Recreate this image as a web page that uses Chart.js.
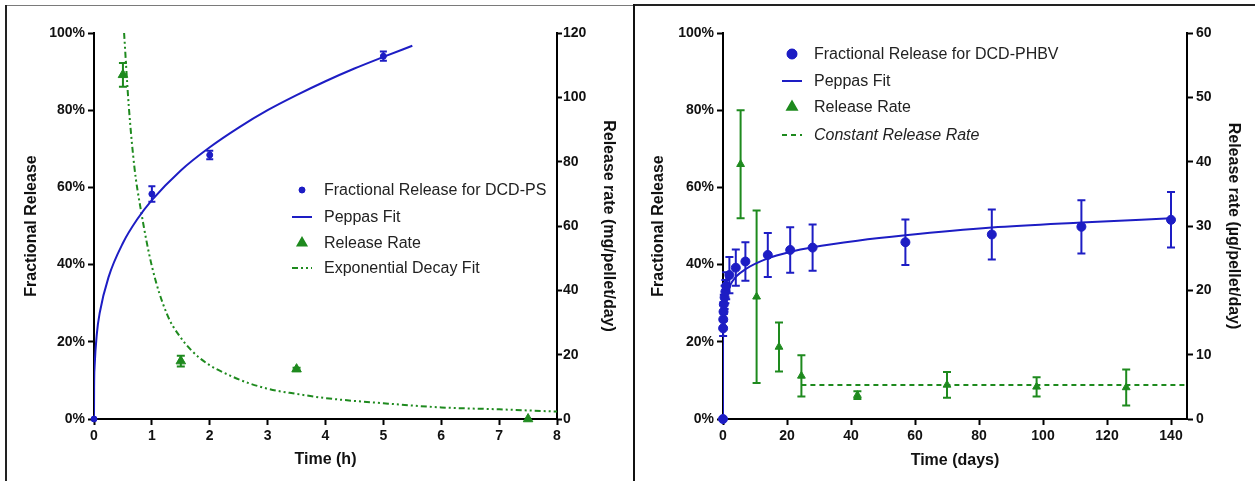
<!DOCTYPE html>
<html>
<head>
<meta charset="utf-8">
<script src="https://cdn.jsdelivr.net/npm/chart.js@4.4.1/dist/chart.umd.min.js"></script>
<style>
  html, body { margin: 0; padding: 0; background: #fff; }
  #wrap { position: relative; width: 1255px; height: 481px; overflow: hidden; background: #fff; }
  canvas { position: absolute; top: 0; }
  #cPS { left: 0; }
  #cPHBV { left: 634px; }
  .rule { position: absolute; }
</style>
</head>
<body>
<div id="wrap">
  <canvas id="cPS" width="634" height="481"></canvas>
  <canvas id="cPHBV" width="621" height="481"></canvas>
  <div class="rule" style="left:6px;top:5px;width:628px;height:1px;background:#7a7a7a"></div>
  <div class="rule" style="left:5px;top:5px;width:2px;height:476px;background:#222"></div>
  <div class="rule" style="left:633px;top:4px;width:2px;height:477px;background:#111"></div>
  <div class="rule" style="left:635px;top:4px;width:620px;height:2px;background:#222"></div>
</div>
<script>
// ---------- DCD-PS pellets (time in hours) ----------
const psTime = [0, 1, 2, 5];
const psFraction = [0, 0.583, 0.684, 0.940];
const psFractionErr = [0, 0.020, 0.011, 0.012];

const psFitTime = [0, 0.002, 0.01, 0.05, 0.1, 0.25, 0.5, 0.75, 1, 1.5, 2, 2.5, 3, 3.5, 4, 4.5, 5, 5.5];
const psFitFraction = [0, 0.081, 0.134, 0.222, 0.276, 0.367, 0.456, 0.518, 0.567, 0.644, 0.704, 0.755, 0.800, 0.839, 0.875, 0.908, 0.938, 0.967];

const psRateTime = [0.5, 1.5, 3.5, 7.5];
const psRate = [107, 18, 15.5, 0];
const psRateErr = [3.7, 1.7, 0.4, 0];

const psDecayTime = [0.52, 0.6, 0.7, 0.8, 1.0, 1.256, 1.486, 1.83, 2.4, 2.98, 3.5, 4.0, 5, 6, 7, 8];
const psDecayRate = [120, 97.5, 78, 66, 47.5, 32.8, 25.6, 18.9, 13.1, 9.5, 7.8, 6.5, 4.9, 3.6, 3.0, 2.3];

// ---------- DCD-PHBV pellets (time in days) ----------
const phbvTime = [0, 0.04, 0.08, 0.17, 0.25, 0.5, 0.75, 1, 2, 4, 7, 14, 21, 28, 57, 84, 112, 140];
const phbvFraction = [0, 0.235, 0.258, 0.278, 0.297, 0.315, 0.330, 0.345, 0.373, 0.392, 0.408, 0.425, 0.438, 0.444, 0.458, 0.478, 0.498, 0.516];
const phbvFractionErr = [0, 0.02, 0.02, 0.025, 0.025, 0.03, 0.03, 0.035, 0.047, 0.047, 0.05, 0.057, 0.059, 0.06, 0.059, 0.065, 0.069, 0.072];

const phbvFitTime = [0, 0.005, 0.02, 0.1, 0.5, 1, 2, 4, 7, 14, 21, 28, 42, 57, 84, 112, 140];
const phbvFitFraction = [0, 0.19, 0.225, 0.26, 0.30, 0.32, 0.343, 0.368, 0.388, 0.416, 0.433, 0.445, 0.462, 0.476, 0.496, 0.509, 0.520];

const phbvRateTime = [5.5, 10.5, 17.5, 24.5, 42, 70, 98, 126];
const phbvRate = [39.6, 19.0, 11.2, 6.7, 3.7, 5.3, 5.0, 4.9];
const phbvRateErr = [8.4, 13.4, 3.8, 3.2, 0.6, 2.0, 1.5, 2.8];

const phbvConstTime = [24.5, 145];
const phbvConstRate = [5.3, 5.3];

// ---------- axis ranges: [min, max, step, last labelled tick] ----------
const psTimeTicks = [0, 8, 1, 8];
const psFractionTicks = [0, 1, 0.2, 1];
const psRateTicks = [0, 120, 20, 120];
const phbvTimeTicks = [0, 145, 20, 140];
const phbvFractionTicks = [0, 1, 0.2, 1];
const phbvRateTicks = [0, 60, 10, 60];

const BLUE = '#1d1dc4';
const GREEN = '#1e8a1e';
const FONT = "'Liberation Sans', Arial, sans-serif";

const pts = (xs, ys) => xs.map((x, i) => ({ x, y: ys[i] }));

Chart.defaults.font.family = FONT;
Chart.defaults.color = '#111';

// vertical error bars with caps, drawn beneath the markers
const errorBars = {
  id: 'errorBars',
  beforeDatasetsDraw(chart) {
    const ctx = chart.ctx;
    chart.data.datasets.forEach((ds) => {
      if (!ds.errors) return;
      const xs = chart.scales.x;
      const ys = chart.scales[ds.yAxisID];
      ctx.save();
      ctx.strokeStyle = ds.borderColor;
      ctx.lineWidth = 2;
      ds.data.forEach((p, j) => {
        const e = ds.errors[j];
        if (!e) return;
        const x = xs.getPixelForValue(p.x);
        const yl = ys.getPixelForValue(p.y - e);
        const yh = ys.getPixelForValue(p.y + e);
        const c = ds.capHalf;
        ctx.beginPath();
        ctx.moveTo(x, yl); ctx.lineTo(x, yh);
        ctx.moveTo(x - c, yl); ctx.lineTo(x + c, yl);
        ctx.moveTo(x - c, yh); ctx.lineTo(x + c, yh);
        ctx.stroke();
      });
      ctx.restore();
    });
  }
};

// legend drawn at fixed spots inside the plot, labels taken from the datasets
const boxLegend = {
  id: 'boxLegend',
  afterDraw(chart, args, opts) {
    const ctx = chart.ctx;
    ctx.save();
    opts.items.forEach((idx, r) => {
      const ds = chart.data.datasets[idx];
      const y = opts.rows[r];
      const cx = opts.markerX;
      ctx.fillStyle = ds.borderColor;
      ctx.strokeStyle = ds.borderColor;
      if (ds.showLine) {
        ctx.lineWidth = 2;
        ctx.setLineDash(ds.borderDash || []);
        ctx.beginPath();
        ctx.moveTo(cx - 10, y); ctx.lineTo(cx + 10, y);
        ctx.stroke();
        ctx.setLineDash([]);
      } else {
        Chart.helpers.drawPoint(ctx, {
          pointStyle: ds.pointStyle, radius: opts.markerRadius[r], borderWidth: 1, rotation: 0
        }, cx, y);
        ctx.fill();
      }
      ctx.fillStyle = '#222';
      ctx.font = (ds.legendItalic ? 'italic ' : '') + '16px ' + FONT;
      ctx.textBaseline = 'middle';
      ctx.textAlign = 'left';
      ctx.fillText(ds.label, opts.textX, y + 1);
    });
    ctx.restore();
  }
};

function axisGrid(len) {
  return { display: true, drawOnChartArea: false, drawTicks: true, tickLength: len, tickWidth: 2, tickColor: '#000', color: '#000' };
}
function axisBorder() { return { display: true, color: '#000', width: 2 }; }
function tickFont() { return { family: FONT, size: 14, weight: 'bold' }; }
function titleFont() { return { family: FONT, size: 16, weight: 'bold' }; }
const pct = v => Math.round(v * 100) + '%';

// labelled ticks run from min to the last labelled value in fixed steps
function fixedTicks(spec) {
  return s => {
    const out = [];
    const n = Math.round((spec[3] - spec[0]) / spec[2]);
    for (let i = 0; i <= n; i++) out.push({ value: +(spec[0] + i * spec[2]).toFixed(6) });
    s.ticks = out;
  };
}

function buildChart(canvasId, cfg) {
  return new Chart(document.getElementById(canvasId), {
    type: 'scatter',
    data: { datasets: cfg.datasets },
    options: {
      responsive: false,
      animation: false,
      devicePixelRatio: 1,
      layout: { padding: { top: 33, left: 0, right: 0, bottom: 0 } },
      plugins: { legend: { display: false }, tooltip: { enabled: false }, boxLegend: cfg.legend },
      scales: {
        x: {
          type: 'linear', position: 'bottom',
          min: cfg.xTicks[0], max: cfg.xTicks[1],
          ticks: { font: tickFont(), color: '#111', padding: 3, maxRotation: 0, callback: v => String(v) },
          afterBuildTicks: fixedTicks(cfg.xTicks),
          grid: axisGrid(6), border: axisBorder(),
          title: { display: true, text: cfg.xTitle, font: titleFont(), color: '#111', padding: { top: 0, bottom: cfg.xTitlePad } },
          afterFit: s => { s.height = 62; }
        },
        y: {
          type: 'linear', position: 'left',
          min: cfg.yTicks[0], max: cfg.yTicks[1],
          ticks: { font: tickFont(), color: '#111', padding: 3, callback: pct },
          afterBuildTicks: fixedTicks(cfg.yTicks),
          grid: axisGrid(6), border: axisBorder(),
          title: { display: true, text: 'Fractional Release', font: titleFont(), color: '#111', padding: { top: cfg.yTitlePad, bottom: 0 } },
          afterFit: s => { s.width = cfg.yWidth; }
        },
        y1: {
          type: 'linear', position: 'right',
          min: cfg.y1Ticks[0], max: cfg.y1Ticks[1],
          ticks: { font: tickFont(), color: '#111', padding: cfg.y1TickPad },
          afterBuildTicks: fixedTicks(cfg.y1Ticks),
          grid: axisGrid(cfg.y1TickLen), border: axisBorder(),
          title: { display: true, text: cfg.y1Title, font: titleFont(), color: '#111', padding: { top: cfg.y1TitlePad, bottom: 0 } },
          afterFit: s => { s.width = cfg.y1Width; }
        }
      }
    },
    plugins: [errorBars, boxLegend]
  });
}

// DCD-PS chart
buildChart('cPS', {
  xTicks: psTimeTicks, yTicks: psFractionTicks, y1Ticks: psRateTicks,
  xTitle: 'Time (h)', y1Title: 'Release rate (mg/pellet/day)',
  yWidth: 94, y1Width: 77, yTitlePad: 22, y1TitlePad: 16, xTitlePad: 12,
  y1TickLen: 5, y1TickPad: 1,
  legend: { markerX: 302, textX: 324, rows: [190, 217, 243, 268], items: [0, 1, 2, 3], markerRadius: [3, 0, 5, 0] },
  datasets: [
    { label: 'Fractional Release for DCD-PS', data: pts(psTime, psFraction), errors: psFractionErr, capHalf: 3.5,
      yAxisID: 'y', showLine: false, pointStyle: 'circle', pointRadius: 3, borderWidth: 1,
      backgroundColor: BLUE, borderColor: BLUE, clip: false, order: 1 },
    { label: 'Peppas Fit', data: pts(psFitTime, psFitFraction), yAxisID: 'y', showLine: true,
      cubicInterpolationMode: 'monotone', pointRadius: 0, borderWidth: 2, borderColor: BLUE, backgroundColor: BLUE, order: 3 },
    { label: 'Release Rate', data: pts(psRateTime, psRate), errors: psRateErr, capHalf: 4,
      yAxisID: 'y1', showLine: false, pointStyle: 'triangle', pointRadius: 5.5, borderWidth: 1,
      backgroundColor: GREEN, borderColor: GREEN, clip: false, order: 2 },
    { label: 'Exponential Decay Fit', data: pts(psDecayTime, psDecayRate), yAxisID: 'y1', showLine: true,
      cubicInterpolationMode: 'monotone', pointRadius: 0, borderWidth: 2, borderDash: [6, 3, 2, 3, 2, 3],
      borderColor: GREEN, backgroundColor: GREEN, order: 4 }
  ]
});

// DCD-PHBV chart
buildChart('cPHBV', {
  xTicks: phbvTimeTicks, yTicks: phbvFractionTicks, y1Ticks: phbvRateTicks,
  xTitle: 'Time (days)', y1Title: 'Release rate (\u00b5g/pellet/day)',
  yWidth: 89, y1Width: 68, yTitlePad: 15, y1TitlePad: 12, xTitlePad: 11,
  y1TickLen: 6, y1TickPad: 3,
  legend: { markerX: 158, textX: 180, rows: [54, 81, 107, 135], items: [0, 1, 2, 3], markerRadius: [5, 0, 5.5, 0] },
  datasets: [
    { label: 'Fractional Release for DCD-PHBV', data: pts(phbvTime, phbvFraction), errors: phbvFractionErr, capHalf: 4,
      yAxisID: 'y', showLine: false, pointStyle: 'circle', pointRadius: 4.5, borderWidth: 1,
      backgroundColor: BLUE, borderColor: BLUE, clip: false, order: 1 },
    { label: 'Peppas Fit', data: pts(phbvFitTime, phbvFitFraction), yAxisID: 'y', showLine: true,
      cubicInterpolationMode: 'monotone', pointRadius: 0, borderWidth: 2, borderColor: BLUE, backgroundColor: BLUE, order: 3 },
    { label: 'Release Rate', data: pts(phbvRateTime, phbvRate), errors: phbvRateErr, capHalf: 4,
      yAxisID: 'y1', showLine: false, pointStyle: 'triangle', pointRadius: 4.5, borderWidth: 1,
      backgroundColor: GREEN, borderColor: GREEN, clip: false, order: 2 },
    { label: 'Constant Release Rate', legendItalic: true, data: pts(phbvConstTime, phbvConstRate), yAxisID: 'y1', showLine: true,
      pointRadius: 0, borderWidth: 2, borderDash: [5, 4], borderColor: GREEN, backgroundColor: GREEN, order: 4 }
  ]
});
</script>
</body>
</html>
